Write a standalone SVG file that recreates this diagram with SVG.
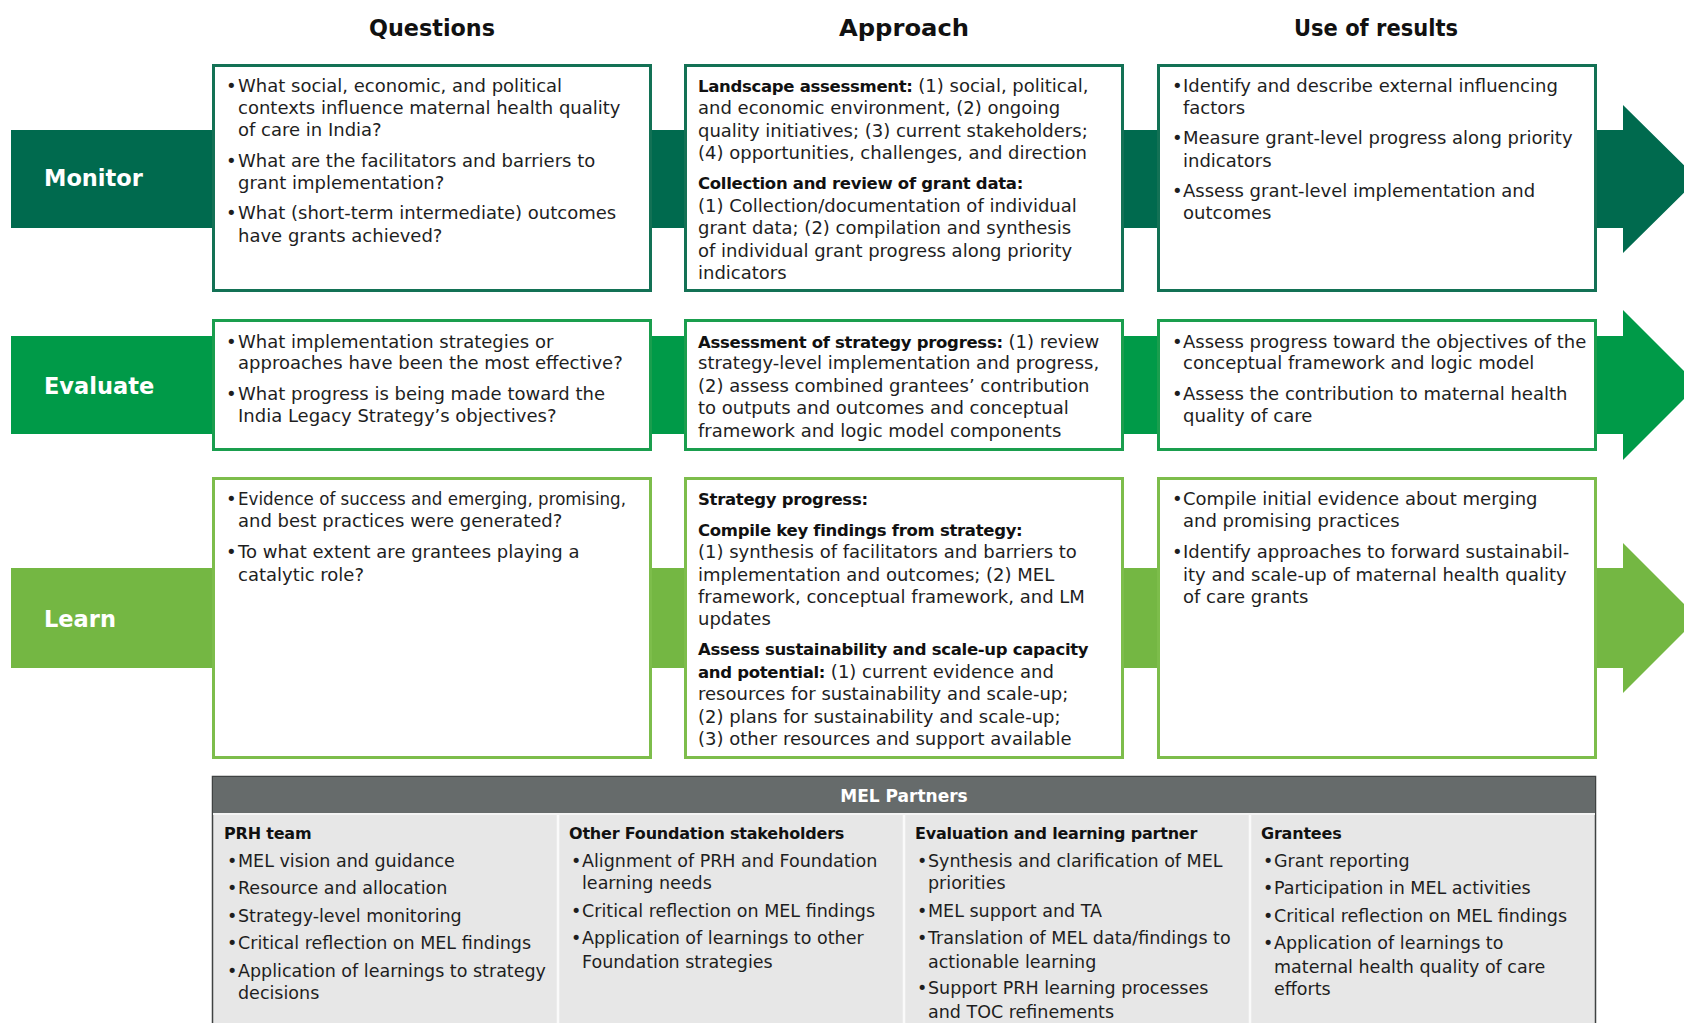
<svg xmlns="http://www.w3.org/2000/svg" width="1684" height="1023" viewBox="0 0 1684 1023">
<style>
.t{font-family:"DejaVu Sans","Liberation Sans",sans-serif;font-size:18px;fill:#1e1e1e}
.b{font-weight:bold;font-size:16.5px;letter-spacing:-0.3px;fill:#111}
.h{font-family:"DejaVu Sans","Liberation Sans",sans-serif;font-weight:bold;font-size:23px;text-anchor:middle;fill:#111}
.lbl{font-family:"DejaVu Sans","Liberation Sans",sans-serif;font-weight:bold;font-size:22.5px;fill:#fff}
.m{font-family:"DejaVu Sans","Liberation Sans",sans-serif;font-size:17.5px;fill:#1e1e1e}
.mh{font-weight:bold;font-size:16px;letter-spacing:-0.2px;fill:#111}
.bx1{fill:#fff;stroke:#137155;stroke-width:3}
.bx2{fill:#fff;stroke:#1a9e4e;stroke-width:3}
.bx3{fill:#fff;stroke:#7dbd4b;stroke-width:3}
</style>
<rect x="0" y="0" width="1684" height="1023" fill="#fff"/>

<g id="connectors">
  <polygon id="band-monitor" fill="#006a4e" points="11,130 1623,130 1623,105 1698,179 1623,253 1623,228 11,228"/>
  <polygon id="band-evaluate" fill="#009a48" points="11,336 1623,336 1623,310 1698,385 1623,460 1623,434 11,434"/>
  <polygon id="band-learn" fill="#74b743" points="11,568 1623,568 1623,543 1698,618 1623,693 1623,668 11,668"/>
</g>

<g id="col-titles">
  <text class="h" x="432" y="36" textLength="126" lengthAdjust="spacingAndGlyphs">Questions</text>
  <text class="h" x="904" y="36" textLength="130" lengthAdjust="spacingAndGlyphs">Approach</text>
  <text class="h" x="1376" y="36" textLength="164" lengthAdjust="spacingAndGlyphs">Use of results</text>
</g>

<g id="label-monitor"><text class="lbl" x="44" y="186">Monitor</text></g>
<g id="label-evaluate"><text class="lbl" x="44" y="394">Evaluate</text></g>
<g id="label-learn"><text class="lbl" x="44" y="627">Learn</text></g>

<g id="monitor-questions">
  <rect class="bx1" x="213.5" y="65.5" width="437" height="225"/>
  <text class="t">
    <tspan x="226" y="92">•</tspan><tspan x="238" y="92">What social, economic, and political</tspan>
    <tspan x="238" y="114">contexts influence maternal health quality</tspan>
    <tspan x="238" y="136">of care in India?</tspan>
    <tspan x="226" y="167">•</tspan><tspan x="238" y="167">What are the facilitators and barriers to</tspan>
    <tspan x="238" y="189">grant implementation?</tspan>
    <tspan x="226" y="219">•</tspan><tspan x="238" y="219">What (short-term intermediate) outcomes</tspan>
    <tspan x="238" y="242">have grants achieved?</tspan>
  </text>
</g>

<g id="monitor-approach">
  <rect class="bx1" x="685.5" y="65.5" width="437" height="225"/>
  <text class="t">
    <tspan x="698" y="92"><tspan class="b">Landscape assessment:</tspan> (1) social, political,</tspan>
    <tspan x="698" y="114">and economic environment, (2) ongoing</tspan>
    <tspan x="698" y="137">quality initiatives; (3) current stakeholders;</tspan>
    <tspan x="698" y="159">(4) opportunities, challenges, and direction</tspan>
    <tspan x="698" y="189" class="b">Collection and review of grant data:</tspan>
    <tspan x="698" y="212">(1) Collection/documentation of individual</tspan>
    <tspan x="698" y="234">grant data; (2) compilation and synthesis</tspan>
    <tspan x="698" y="257">of individual grant progress along priority</tspan>
    <tspan x="698" y="279">indicators</tspan>
  </text>
</g>

<g id="monitor-use">
  <rect class="bx1" x="1158.5" y="65.5" width="437" height="225"/>
  <text class="t">
    <tspan x="1172" y="92">•</tspan><tspan x="1183" y="92">Identify and describe external influencing</tspan>
    <tspan x="1183" y="114">factors</tspan>
    <tspan x="1172" y="144">•</tspan><tspan x="1183" y="144">Measure grant-level progress along priority</tspan>
    <tspan x="1183" y="167">indicators</tspan>
    <tspan x="1172" y="197">•</tspan><tspan x="1183" y="197">Assess grant-level implementation and</tspan>
    <tspan x="1183" y="219">outcomes</tspan>
  </text>
</g>

<g id="evaluate-questions">
  <rect class="bx2" x="213.5" y="320.5" width="437" height="129"/>
  <text class="t">
    <tspan x="226" y="348">•</tspan><tspan x="238" y="348">What implementation strategies or</tspan>
    <tspan x="238" y="369">approaches have been the most effective?</tspan>
    <tspan x="226" y="400">•</tspan><tspan x="238" y="400">What progress is being made toward the</tspan>
    <tspan x="238" y="422">India Legacy Strategy’s objectives?</tspan>
  </text>
</g>

<g id="evaluate-approach">
  <rect class="bx2" x="685.5" y="320.5" width="437" height="129"/>
  <text class="t">
    <tspan x="698" y="348"><tspan class="b">Assessment of strategy progress:</tspan> (1) review</tspan>
    <tspan x="698" y="369">strategy-level implementation and progress,</tspan>
    <tspan x="698" y="392">(2) assess combined grantees’ contribution</tspan>
    <tspan x="698" y="414">to outputs and outcomes and conceptual</tspan>
    <tspan x="698" y="437">framework and logic model components</tspan>
  </text>
</g>

<g id="evaluate-use">
  <rect class="bx2" x="1158.5" y="320.5" width="437" height="129"/>
  <text class="t">
    <tspan x="1172" y="348">•</tspan><tspan x="1183" y="348">Assess progress toward the objectives of the</tspan>
    <tspan x="1183" y="369">conceptual framework and logic model</tspan>
    <tspan x="1172" y="400">•</tspan><tspan x="1183" y="400">Assess the contribution to maternal health</tspan>
    <tspan x="1183" y="422">quality of care</tspan>
  </text>
</g>

<g id="learn-questions">
  <rect class="bx3" x="213.5" y="478.5" width="437" height="279"/>
  <text class="t">
    <tspan x="226" y="505">•</tspan>
    <tspan x="226" y="558">•</tspan><tspan x="238" y="558">To what extent are grantees playing a</tspan>
    <tspan x="238" y="581">catalytic role?</tspan>
  </text>
  <text class="t" x="238" y="505" textLength="388" lengthAdjust="spacingAndGlyphs">Evidence of success and emerging, promising,</text>
  <text class="t" x="238" y="527">and best practices were generated?</text>
</g>

<g id="learn-approach">
  <rect class="bx3" x="685.5" y="478.5" width="437" height="279"/>
  <text class="t">
    <tspan x="698" y="505" class="b">Strategy progress:</tspan>
    <tspan x="698" y="536" class="b">Compile key findings from strategy:</tspan>
    <tspan x="698" y="558">(1) synthesis of facilitators and barriers to</tspan>
    <tspan x="698" y="581">implementation and outcomes; (2) MEL</tspan>
    <tspan x="698" y="603">framework, conceptual framework, and LM</tspan>
    <tspan x="698" y="625">updates</tspan>
    <tspan x="698" y="655" class="b">Assess sustainability and scale-up capacity</tspan>
    <tspan x="698" y="678"><tspan class="b">and potential:</tspan> (1) current evidence and</tspan>
    <tspan x="698" y="700">resources for sustainability and scale-up;</tspan>
    <tspan x="698" y="723">(2) plans for sustainability and scale-up;</tspan>
    <tspan x="698" y="745">(3) other resources and support available</tspan>
  </text>
</g>

<g id="learn-use">
  <rect class="bx3" x="1158.5" y="478.5" width="437" height="279"/>
  <text class="t">
    <tspan x="1172" y="505">•</tspan><tspan x="1183" y="505">Compile initial evidence about merging</tspan>
    <tspan x="1183" y="527">and promising practices</tspan>
    <tspan x="1172" y="558">•</tspan><tspan x="1183" y="558">Identify approaches to forward sustainabil-</tspan>
    <tspan x="1183" y="581">ity and scale-up of maternal health quality</tspan>
    <tspan x="1183" y="603">of care grants</tspan>
  </text>
</g>

<g id="mel-partners">
  <rect x="212.5" y="776.5" width="1383" height="260" fill="#e7e7e7" stroke="#3f4242" stroke-width="1.5"/>
  <rect x="213" y="777" width="1382" height="36" fill="#666b6b"/>
  <line x1="213" y1="814" x2="1595" y2="814" stroke="#f4f4f4" stroke-width="2"/>
  <line x1="558" y1="815" x2="558" y2="1023" stroke="#fafafa" stroke-width="2.5"/>
  <line x1="904" y1="815" x2="904" y2="1023" stroke="#fafafa" stroke-width="2.5"/>
  <line x1="1250" y1="815" x2="1250" y2="1023" stroke="#fafafa" stroke-width="2.5"/>
  <text class="m" x="904" y="802" text-anchor="middle" style="font-weight:bold;font-size:17px;fill:#fff">MEL Partners</text>
  <text class="m">
    <tspan x="224" y="839" class="mh">PRH team</tspan>
    <tspan x="227" y="867">•</tspan><tspan x="238" y="867">MEL vision and guidance</tspan>
    <tspan x="227" y="894">•</tspan><tspan x="238" y="894">Resource and allocation</tspan>
    <tspan x="227" y="922">•</tspan><tspan x="238" y="922">Strategy-level monitoring</tspan>
    <tspan x="227" y="949">•</tspan><tspan x="238" y="949">Critical reflection on MEL findings</tspan>
    <tspan x="227" y="977">•</tspan><tspan x="238" y="977">Application of learnings to strategy</tspan>
    <tspan x="238" y="999">decisions</tspan>
  </text>
  <text class="m">
    <tspan x="569" y="839" class="mh">Other Foundation stakeholders</tspan>
    <tspan x="571" y="867">•</tspan><tspan x="582" y="867">Alignment of PRH and Foundation</tspan>
    <tspan x="582" y="889">learning needs</tspan>
    <tspan x="571" y="917">•</tspan><tspan x="582" y="917">Critical reflection on MEL findings</tspan>
    <tspan x="571" y="944">•</tspan><tspan x="582" y="944">Application of learnings to other</tspan>
    <tspan x="582" y="968">Foundation strategies</tspan>
  </text>
  <text class="m">
    <tspan x="915" y="839" class="mh">Evaluation and learning partner</tspan>
    <tspan x="917" y="867">•</tspan><tspan x="928" y="867">Synthesis and clarification of MEL</tspan>
    <tspan x="928" y="889">priorities</tspan>
    <tspan x="917" y="917">•</tspan><tspan x="928" y="917">MEL support and TA</tspan>
    <tspan x="917" y="944">•</tspan><tspan x="928" y="944">Translation of MEL data/findings to</tspan>
    <tspan x="928" y="968">actionable learning</tspan>
    <tspan x="917" y="994">•</tspan><tspan x="928" y="994">Support PRH learning processes</tspan>
    <tspan x="928" y="1018">and TOC refinements</tspan>
  </text>
  <text class="m">
    <tspan x="1261" y="839" class="mh">Grantees</tspan>
    <tspan x="1263" y="867">•</tspan><tspan x="1274" y="867">Grant reporting</tspan>
    <tspan x="1263" y="894">•</tspan><tspan x="1274" y="894">Participation in MEL activities</tspan>
    <tspan x="1263" y="922">•</tspan><tspan x="1274" y="922">Critical reflection on MEL findings</tspan>
    <tspan x="1263" y="949">•</tspan><tspan x="1274" y="949">Application of learnings to</tspan>
    <tspan x="1274" y="973">maternal health quality of care</tspan>
    <tspan x="1274" y="995">efforts</tspan>
  </text>
</g>
</svg>
